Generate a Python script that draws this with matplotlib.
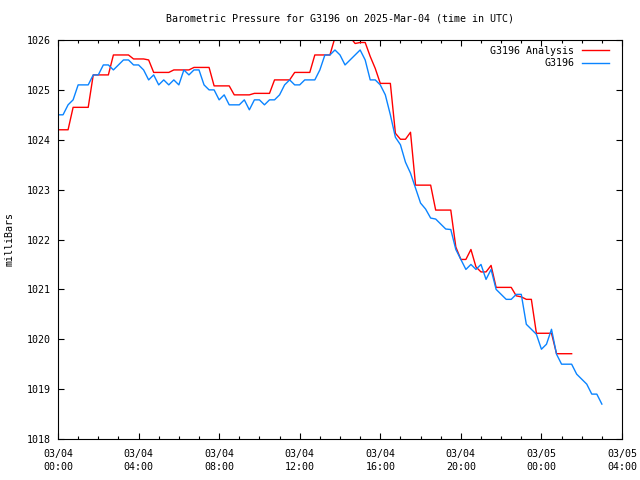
import numpy as np
import pandas as pd
import matplotlib
matplotlib.use("Agg")
import matplotlib.pyplot as plt
import matplotlib.dates as mdates

# -------- Data (15 minute samples, UTC) --------
start = "2025-03-04 00:00"

# G3196 observations, 00:00 .. 27:00 (one row per hour)
obs_values = [
    1024.5, 1024.5, 1024.7, 1024.8,
    1025.1, 1025.1, 1025.1, 1025.3,
    1025.3, 1025.5, 1025.5, 1025.4,
    1025.5, 1025.6, 1025.6, 1025.5,
    1025.5, 1025.4, 1025.2, 1025.3,
    1025.1, 1025.2, 1025.1, 1025.2,
    1025.1, 1025.4, 1025.3, 1025.4,
    1025.4, 1025.1, 1025.0, 1025.0,
    1024.8, 1024.9, 1024.7, 1024.7,
    1024.7, 1024.8, 1024.6, 1024.8,
    1024.8, 1024.7, 1024.8, 1024.8,
    1024.9, 1025.1, 1025.2, 1025.1,
    1025.1, 1025.2, 1025.2, 1025.2,
    1025.4, 1025.7, 1025.7, 1025.8,
    1025.7, 1025.5, 1025.6, 1025.7,
    1025.8, 1025.6, 1025.2, 1025.2,
    1025.1, 1024.9, 1024.5, 1024.05,
    1023.9, 1023.55, 1023.33, 1023.03,
    1022.73, 1022.61, 1022.43, 1022.41,
    1022.31, 1022.21, 1022.2, 1021.8,
    1021.6, 1021.4, 1021.5, 1021.4,
    1021.5, 1021.2, 1021.4, 1021.0,
    1020.9, 1020.8, 1020.8, 1020.9,
    1020.9, 1020.3, 1020.2, 1020.1,
    1019.8, 1019.9, 1020.2, 1019.7,
    1019.5, 1019.5, 1019.5, 1019.3,
    1019.2, 1019.1, 1018.9, 1018.9,
    1018.7,
]

# G3196 Analysis, 00:00 .. 25:30
ana_values = [
    1024.2, 1024.2, 1024.2, 1024.65,
    1024.65, 1024.65, 1024.65, 1025.3,
    1025.3, 1025.3, 1025.3, 1025.7,
    1025.7, 1025.7, 1025.7, 1025.62,
    1025.62, 1025.62, 1025.6, 1025.35,
    1025.35, 1025.35, 1025.35, 1025.4,
    1025.4, 1025.4, 1025.4, 1025.45,
    1025.45, 1025.45, 1025.45, 1025.08,
    1025.08, 1025.08, 1025.08, 1024.9,
    1024.9, 1024.9, 1024.9, 1024.93,
    1024.93, 1024.93, 1024.93, 1025.2,
    1025.2, 1025.2, 1025.2, 1025.35,
    1025.35, 1025.35, 1025.35, 1025.7,
    1025.7, 1025.7, 1025.7, 1026.05,
    1026.1, 1026.1, 1026.06, 1025.93,
    1025.95, 1025.95, 1025.67, 1025.43,
    1025.13, 1025.13, 1025.13, 1024.13,
    1024.01, 1024.01, 1024.15, 1023.09,
    1023.09, 1023.09, 1023.09, 1022.59,
    1022.59, 1022.59, 1022.59, 1021.85,
    1021.6, 1021.6, 1021.8, 1021.45,
    1021.35, 1021.35, 1021.48, 1021.04,
    1021.04, 1021.04, 1021.04, 1020.87,
    1020.85, 1020.8, 1020.8, 1020.12,
    1020.12, 1020.12, 1020.12, 1019.71,
    1019.71, 1019.71, 1019.71,
]

obs = pd.Series(obs_values, index=pd.date_range(start, periods=len(obs_values), freq="15min"))
ana = pd.Series(ana_values, index=pd.date_range(start, periods=len(ana_values), freq="15min"))

# -------- Plot --------
plt.rcParams["font.family"] = ["DejaVu Sans Mono"]
plt.rcParams["font.size"] = 7.2

fig = plt.figure(figsize=(6.4, 4.8), dpi=100)
ax = fig.add_axes([58 / 640, 1 - 439 / 480, 564 / 640, 399 / 480])

ax.plot(ana.index, ana.values, color="#ff0000", lw=1.0, label="G3196 Analysis")
ax.plot(obs.index, obs.values, color="#0a84ff", lw=1.0, label="G3196")

ax.set_xlim(pd.Timestamp("2025-03-04 00:00"), pd.Timestamp("2025-03-05 04:00"))
ax.set_ylim(1018, 1026)
ax.set_yticks(np.arange(1018, 1027, 1))

ax.xaxis.set_major_locator(mdates.HourLocator(byhour=range(0, 24, 4)))
ax.xaxis.set_minor_locator(mdates.HourLocator())
ax.xaxis.set_major_formatter(mdates.DateFormatter("%m/%d\n%H:%M"))

ax.tick_params(which="both", direction="in", top=True, right=True, width=0.8, colors="black")
ax.tick_params(which="major", length=4.5)
ax.tick_params(which="minor", length=2.5)
ax.tick_params(axis="x", which="major", pad=7)
ax.tick_params(axis="y", which="major", pad=5)
for lbl in ax.get_xticklabels():
    lbl.set_linespacing(1.45)

for s in ax.spines.values():
    s.set_linewidth(0.8)

ax.set_title("Barometric Pressure for G3196 on 2025-Mar-04 (time in UTC)", fontsize=7.2, pad=13)
ax.set_ylabel("milliBars", labelpad=9)

ax.legend(loc="upper right", bbox_to_anchor=(1 - 6 / 564, 1 + 1 / 399), frameon=False,
          markerfirst=False, handlelength=2.7, labelspacing=0.25, borderaxespad=0.3,
          handletextpad=0.75)

fig.savefig("out.png", dpi=100)
